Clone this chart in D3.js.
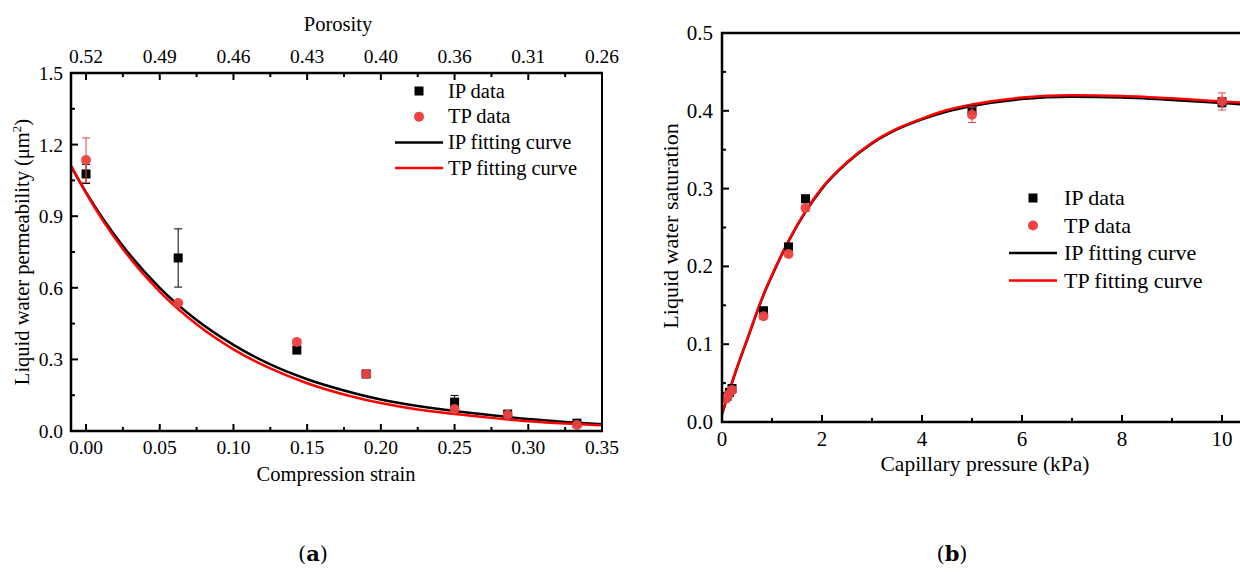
<!DOCTYPE html>
<html>
<head>
<meta charset="utf-8">
<script src="https://cdn.jsdelivr.net/npm/d3@7"></script>
<style>
  body { margin: 0; background: #fff; }
</style>
</head>
<body>
<script>
// ---- panel (a) data ----
const strainIP = [0, 0.0625, 0.143, 0.19, 0.25, 0.286, 0.333];
const permIP = [1.077, 0.725, 0.339, 0.239, 0.121, 0.071, 0.033];
const permIPErr = [0.04, 0.122, 0.01, 0.01, 0.028, 0.006, 0.006];
const strainTP = [0, 0.0625, 0.143, 0.19, 0.25, 0.286, 0.333];
const permTP = [1.135, 0.536, 0.373, 0.239, 0.092, 0.068, 0.025];
const permTPErr = [0.093, 0.008, 0.012, 0.012, 0.008, 0.006, 0.004];

const fitStrain = [-0.01, 0, 0.025, 0.05, 0.075, 0.1, 0.125, 0.15, 0.175, 0.2, 0.225, 0.25, 0.275, 0.3, 0.325, 0.35];
const fitPermIP = [1.107, 1.0, 0.775, 0.600, 0.465, 0.361, 0.279, 0.217, 0.170, 0.132, 0.105, 0.084, 0.066, 0.050, 0.038, 0.028];
const fitPermTP = [1.11, 0.997, 0.763, 0.584, 0.447, 0.342, 0.262, 0.200, 0.153, 0.117, 0.090, 0.071, 0.055, 0.041, 0.031, 0.024];

const strainTicks = [0, 0.05, 0.1, 0.15, 0.2, 0.25, 0.3, 0.35];
const porosityLabels = ["0.52", "0.49", "0.46", "0.43", "0.40", "0.36", "0.31", "0.26"];
const permTicks = [0, 0.3, 0.6, 0.9, 1.2, 1.5];

// ---- panel (b) data ----
const pcIP = [0.1, 0.15, 0.2, 0.83, 1.33, 1.67, 5.0, 10.0];
const satIP = [0.033, 0.038, 0.043, 0.143, 0.225, 0.287, 0.401, 0.411];
const satIPErr = [0.004, 0.004, 0.004, 0.004, 0.004, 0.004, 0.004, 0.006];
const pcTP = [0.08, 0.13, 0.2, 0.83, 1.33, 1.67, 5.0, 10.0];
const satTP = [0.030, 0.035, 0.041, 0.136, 0.216, 0.275, 0.395, 0.412];
const satTPErr = [0.004, 0.004, 0.004, 0.004, 0.004, 0.004, 0.01, 0.011];

const fitPc = [0, 0.25, 0.5, 0.83, 1.0, 1.33, 1.67, 2.0, 2.5, 3.0, 3.5, 4.0, 4.5, 5.0, 6.0, 7.0, 8.0, 9.0, 10.0, 10.5];
const fitSatIP = [0.010, 0.060, 0.105, 0.163, 0.188, 0.232, 0.270, 0.300, 0.333, 0.358, 0.376, 0.389, 0.399, 0.406, 0.415, 0.418, 0.417, 0.414, 0.410, 0.408];
const fitSatTP = [0.011, 0.061, 0.106, 0.164, 0.189, 0.233, 0.271, 0.301, 0.334, 0.359, 0.377, 0.390, 0.401, 0.408, 0.417, 0.420, 0.419, 0.416, 0.412, 0.410];

const pcTicks = [0, 2, 4, 6, 8, 10];
const satTicks = [0, 0.1, 0.2, 0.3, 0.4, 0.5];

const legendNames = ["IP data", "TP data", "IP fitting curve", "TP fitting curve"];

const W = 1240, H = 572;
const RED_PT = "#ec4242", RED_LN = "#ff0000";
const SERIF = "Liberation Serif";

const svg = d3.select("body").append("svg")
  .attr("width", W).attr("height", H)
  .attr("font-family", SERIF);

// inward ticks
function tickAxis(g, scale, values, dir, len) {
  values.forEach(function (v) {
    const p = scale(v);
    if (dir === "bottom") g.append("line").attr("x1", p).attr("x2", p).attr("y1", 0).attr("y2", -len);
    if (dir === "top") g.append("line").attr("x1", p).attr("x2", p).attr("y1", 0).attr("y2", len);
    if (dir === "left") g.append("line").attr("y1", p).attr("y2", p).attr("x1", 0).attr("x2", len);
  });
  g.selectAll("line").attr("stroke", "#000").attr("stroke-width", 2);
}

function legend(g, x0, y0, step, fs, tx) {
  legendNames.forEach(function (name, i) {
    const y = y0 + i * step;
    if (i === 0) g.append("rect").attr("x", x0 - 4.5).attr("y", y - 4.5).attr("width", 9).attr("height", 9).attr("fill", "#000");
    if (i === 1) g.append("circle").attr("cx", x0).attr("cy", y).attr("r", 5).attr("fill", RED_PT);
    if (i >= 2) g.append("line").attr("x1", x0 - 24).attr("x2", x0 + 24).attr("y1", y).attr("y2", y)
      .attr("stroke", i === 2 ? "#000" : RED_LN).attr("stroke-width", 2.5);
    g.append("text").attr("x", tx).attr("y", y + fs * 0.33).attr("font-size", fs).text(name);
  });
}

function points(g, xs, ys, errs, x, y, kind) {
  const col = kind === "sq" ? "#000" : RED_PT;
  xs.forEach(function (xv, i) {
    const px = x(xv), top = y(ys[i] + errs[i]), bot = y(ys[i] - errs[i]);
    g.append("line").attr("x1", px).attr("x2", px).attr("y1", top).attr("y2", bot).attr("stroke", col).attr("stroke-width", 1);
    g.append("line").attr("x1", px - 4).attr("x2", px + 4).attr("y1", top).attr("y2", top).attr("stroke", col).attr("stroke-width", 1);
    g.append("line").attr("x1", px - 4).attr("x2", px + 4).attr("y1", bot).attr("y2", bot).attr("stroke", col).attr("stroke-width", 1);
    if (kind === "sq") g.append("rect").attr("x", px - 4.5).attr("y", y(ys[i]) - 4.5).attr("width", 9).attr("height", 9).attr("fill", "#000");
    else g.append("circle").attr("cx", px).attr("cy", y(ys[i])).attr("r", 5).attr("fill", RED_PT).attr("fill-opacity", 0.95);
  });
}

// ================= panel (a) =================
const xa = d3.scaleLinear().domain([-0.0102, 0.35]).range([71, 602]);
const ya = d3.scaleLinear().domain([0, 1.5]).range([431, 73]);
const ga = svg.append("g");

const lineA = d3.line().x(function (d) { return xa(d[0]); }).y(function (d) { return ya(d[1]); }).curve(d3.curveMonotoneX);
ga.append("path").datum(d3.zip(fitStrain, fitPermIP)).attr("d", lineA).attr("fill", "none").attr("stroke", "#000").attr("stroke-width", 2.5);
ga.append("path").datum(d3.zip(fitStrain, fitPermTP)).attr("d", lineA).attr("fill", "none").attr("stroke", RED_LN).attr("stroke-width", 2.5);

points(ga, strainIP, permIP, permIPErr, xa, ya, "sq");
points(ga, strainTP, permTP, permTPErr, xa, ya, "ci");

// frame
ga.append("line").attr("x1", 71).attr("x2", 71).attr("y1", 72).attr("y2", 432).attr("stroke", "#000").attr("stroke-width", 2.5);
ga.append("line").attr("x1", 602).attr("x2", 602).attr("y1", 72).attr("y2", 432).attr("stroke", "#000").attr("stroke-width", 2);
ga.append("line").attr("x1", 70).attr("x2", 603).attr("y1", 431).attr("y2", 431).attr("stroke", "#000").attr("stroke-width", 2.5);
ga.append("line").attr("x1", 70).attr("x2", 603).attr("y1", 73).attr("y2", 73).attr("stroke", "#000").attr("stroke-width", 2.5);

const strainMinor = [0.025, 0.075, 0.125, 0.175, 0.225, 0.275, 0.325];
tickAxis(ga.append("g").attr("transform", "translate(0,431)"), xa, strainTicks, "bottom", 7);
tickAxis(ga.append("g").attr("transform", "translate(0,431)"), xa, strainMinor, "bottom", 4);
tickAxis(ga.append("g").attr("transform", "translate(0,73)"), xa, strainTicks, "top", 7);
tickAxis(ga.append("g").attr("transform", "translate(0,73)"), xa, strainMinor, "top", 4);
tickAxis(ga.append("g").attr("transform", "translate(71,0)"), ya, permTicks, "left", 7);
tickAxis(ga.append("g").attr("transform", "translate(71,0)"), ya, [0.15, 0.45, 0.75, 1.05, 1.35], "left", 4);

strainTicks.forEach(function (v, i) {
  ga.append("text").attr("x", xa(v)).attr("y", 454).attr("text-anchor", "middle").attr("font-size", 19.5).text(d3.format(".2f")(v));
  ga.append("text").attr("x", xa(v)).attr("y", 63).attr("text-anchor", "middle").attr("font-size", 19.5).text(porosityLabels[i]);
});
permTicks.forEach(function (v) {
  ga.append("text").attr("x", 63).attr("y", ya(v) + 7).attr("text-anchor", "end").attr("font-size", 19.5).text(d3.format(".1f")(v));
});
ga.append("text").attr("x", 336).attr("y", 481).attr("text-anchor", "middle").attr("font-size", 20.5).text("Compression strain");
ga.append("text").attr("x", 338).attr("y", 31).attr("text-anchor", "middle").attr("font-size", 20.5).text("Porosity");
const ta = ga.append("text").attr("transform", "translate(29,252) rotate(-90)").attr("text-anchor", "middle").attr("font-size", 20.5);
ta.append("tspan").text("Liquid water permeability (μm");
ta.append("tspan").attr("dy", -8).attr("font-size", 13).text("2");
ta.append("tspan").attr("dy", 8).text(")");

legend(ga, 419, 91, 25.7, 20.5, 448);

// ================= panel (b) =================
const xb = d3.scaleLinear().domain([0, 10.5]).range([722, 1247]);
const yb = d3.scaleLinear().domain([0, 0.5]).range([422, 33]);
const gb = svg.append("g");

const lineB = d3.line().x(function (d) { return xb(d[0]); }).y(function (d) { return yb(d[1]); }).curve(d3.curveMonotoneX);
gb.append("path").datum(d3.zip(fitPc, fitSatIP)).attr("d", lineB).attr("fill", "none").attr("stroke", "#000").attr("stroke-width", 2.5);
gb.append("path").datum(d3.zip(fitPc, fitSatTP)).attr("d", lineB).attr("fill", "none").attr("stroke", RED_LN).attr("stroke-width", 2.5);

points(gb, pcIP, satIP, satIPErr, xb, yb, "sq");
points(gb, pcTP, satTP, satTPErr, xb, yb, "ci");

gb.append("line").attr("x1", 722).attr("x2", 722).attr("y1", 32).attr("y2", 423).attr("stroke", "#000").attr("stroke-width", 2.5);
gb.append("line").attr("x1", 721).attr("x2", 1240).attr("y1", 422).attr("y2", 422).attr("stroke", "#000").attr("stroke-width", 2.5);
gb.append("line").attr("x1", 721).attr("x2", 1240).attr("y1", 33).attr("y2", 33).attr("stroke", "#000").attr("stroke-width", 2.5);

tickAxis(gb.append("g").attr("transform", "translate(0,422)"), xb, pcTicks, "bottom", 7);
tickAxis(gb.append("g").attr("transform", "translate(0,422)"), xb, [1, 3, 5, 7, 9], "bottom", 4);
tickAxis(gb.append("g").attr("transform", "translate(722,0)"), yb, satTicks, "left", 7);
tickAxis(gb.append("g").attr("transform", "translate(722,0)"), yb, [0.05, 0.15, 0.25, 0.35, 0.45], "left", 4);

pcTicks.forEach(function (v) {
  gb.append("text").attr("x", xb(v)).attr("y", 446).attr("text-anchor", "middle").attr("font-size", 21).text(v);
});
satTicks.forEach(function (v) {
  gb.append("text").attr("x", 713).attr("y", yb(v) + 7).attr("text-anchor", "end").attr("font-size", 21).text(d3.format(".1f")(v));
});
gb.append("text").attr("x", 985).attr("y", 471).attr("text-anchor", "middle").attr("font-size", 21.5).text("Capillary pressure (kPa)");
gb.append("text").attr("transform", "translate(678,226) rotate(-90)").attr("text-anchor", "middle").attr("font-size", 22).text("Liquid water saturation");

legend(gb, 1033, 198, 27.5, 22, 1064);

// captions
function caption(x, letter) {
  const c = svg.append("text").attr("x", x).attr("y", 561).attr("text-anchor", "middle")
    .attr("font-family", "DejaVu Serif").attr("font-size", 21);
  c.append("tspan").text("(");
  c.append("tspan").attr("font-weight", "bold").text(letter);
  c.append("tspan").text(")");
}
caption(313, "a");
caption(952, "b");
</script>
</body>
</html>
